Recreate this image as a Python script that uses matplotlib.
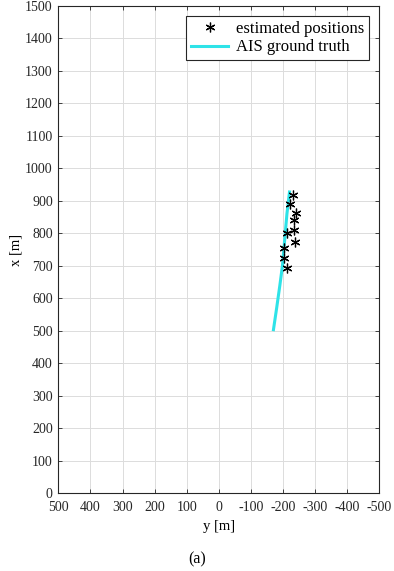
import numpy as np
import matplotlib.pyplot as plt

plt.rcParams['font.family'] = ['Liberation Serif', 'DejaVu Serif']

# AIS ground truth track (y, x) in metres
truth_y = [-170, -180, -190, -198, -205, -212, -220]
truth_x = [503, 570, 640, 700, 780, 860, 927]

# estimated positions (y, x) in metres
est_y = [-230, -222, -239, -234, -234, -213, -237, -203, -203, -212]
est_x = [917, 891, 862, 840, 809, 801, 773, 753, 725, 693]

fig = plt.figure(figsize=(3.94, 5.71), dpi=100)
ax = fig.add_axes([0.148, 0.1366, 0.815, 0.853])

ax.plot(est_y, est_x, linestyle='none', marker=(6, 2, 0), color='black', markersize=7,
        markeredgewidth=0.9, label='estimated positions', zorder=3)
ax.plot(truth_y, truth_x, color='#2ee3e8', linewidth=2.2, label='AIS ground truth', zorder=2)

ax.set_xlim(500, -500)
ax.set_ylim(0, 1500)
ax.set_xticks(np.arange(500, -501, -100))
ax.set_xticklabels([str(v) for v in range(500, -501, -100)])
ax.set_yticks(np.arange(0, 1501, 100))
ax.grid(True, color='#dcdcdc', linewidth=0.7)
ax.tick_params(direction='in', top=True, right=True, labelsize=10, length=3, width=0.6,
               colors='#262626')
ax.tick_params(axis='x', pad=6)
ax.tick_params(axis='y', pad=4)
for s in ax.spines.values():
    s.set_linewidth(0.8)
    s.set_color('#262626')

ax.set_xlabel('y [m]', fontsize=10.5, labelpad=4)
ax.set_ylabel('x [m]', fontsize=10.5, labelpad=2)

leg = ax.legend(loc='upper right', fontsize=12, fancybox=False, framealpha=1,
                edgecolor='#262626', borderpad=0.3, handlelength=2.2,
                handletextpad=0.5, labelspacing=0.15, borderaxespad=0.6)
leg.get_frame().set_linewidth(0.8)

fig.text(0.5, 0.02, '(a)', ha='center', va='center', fontsize=11.5)

fig.savefig('out.png', dpi=100)
